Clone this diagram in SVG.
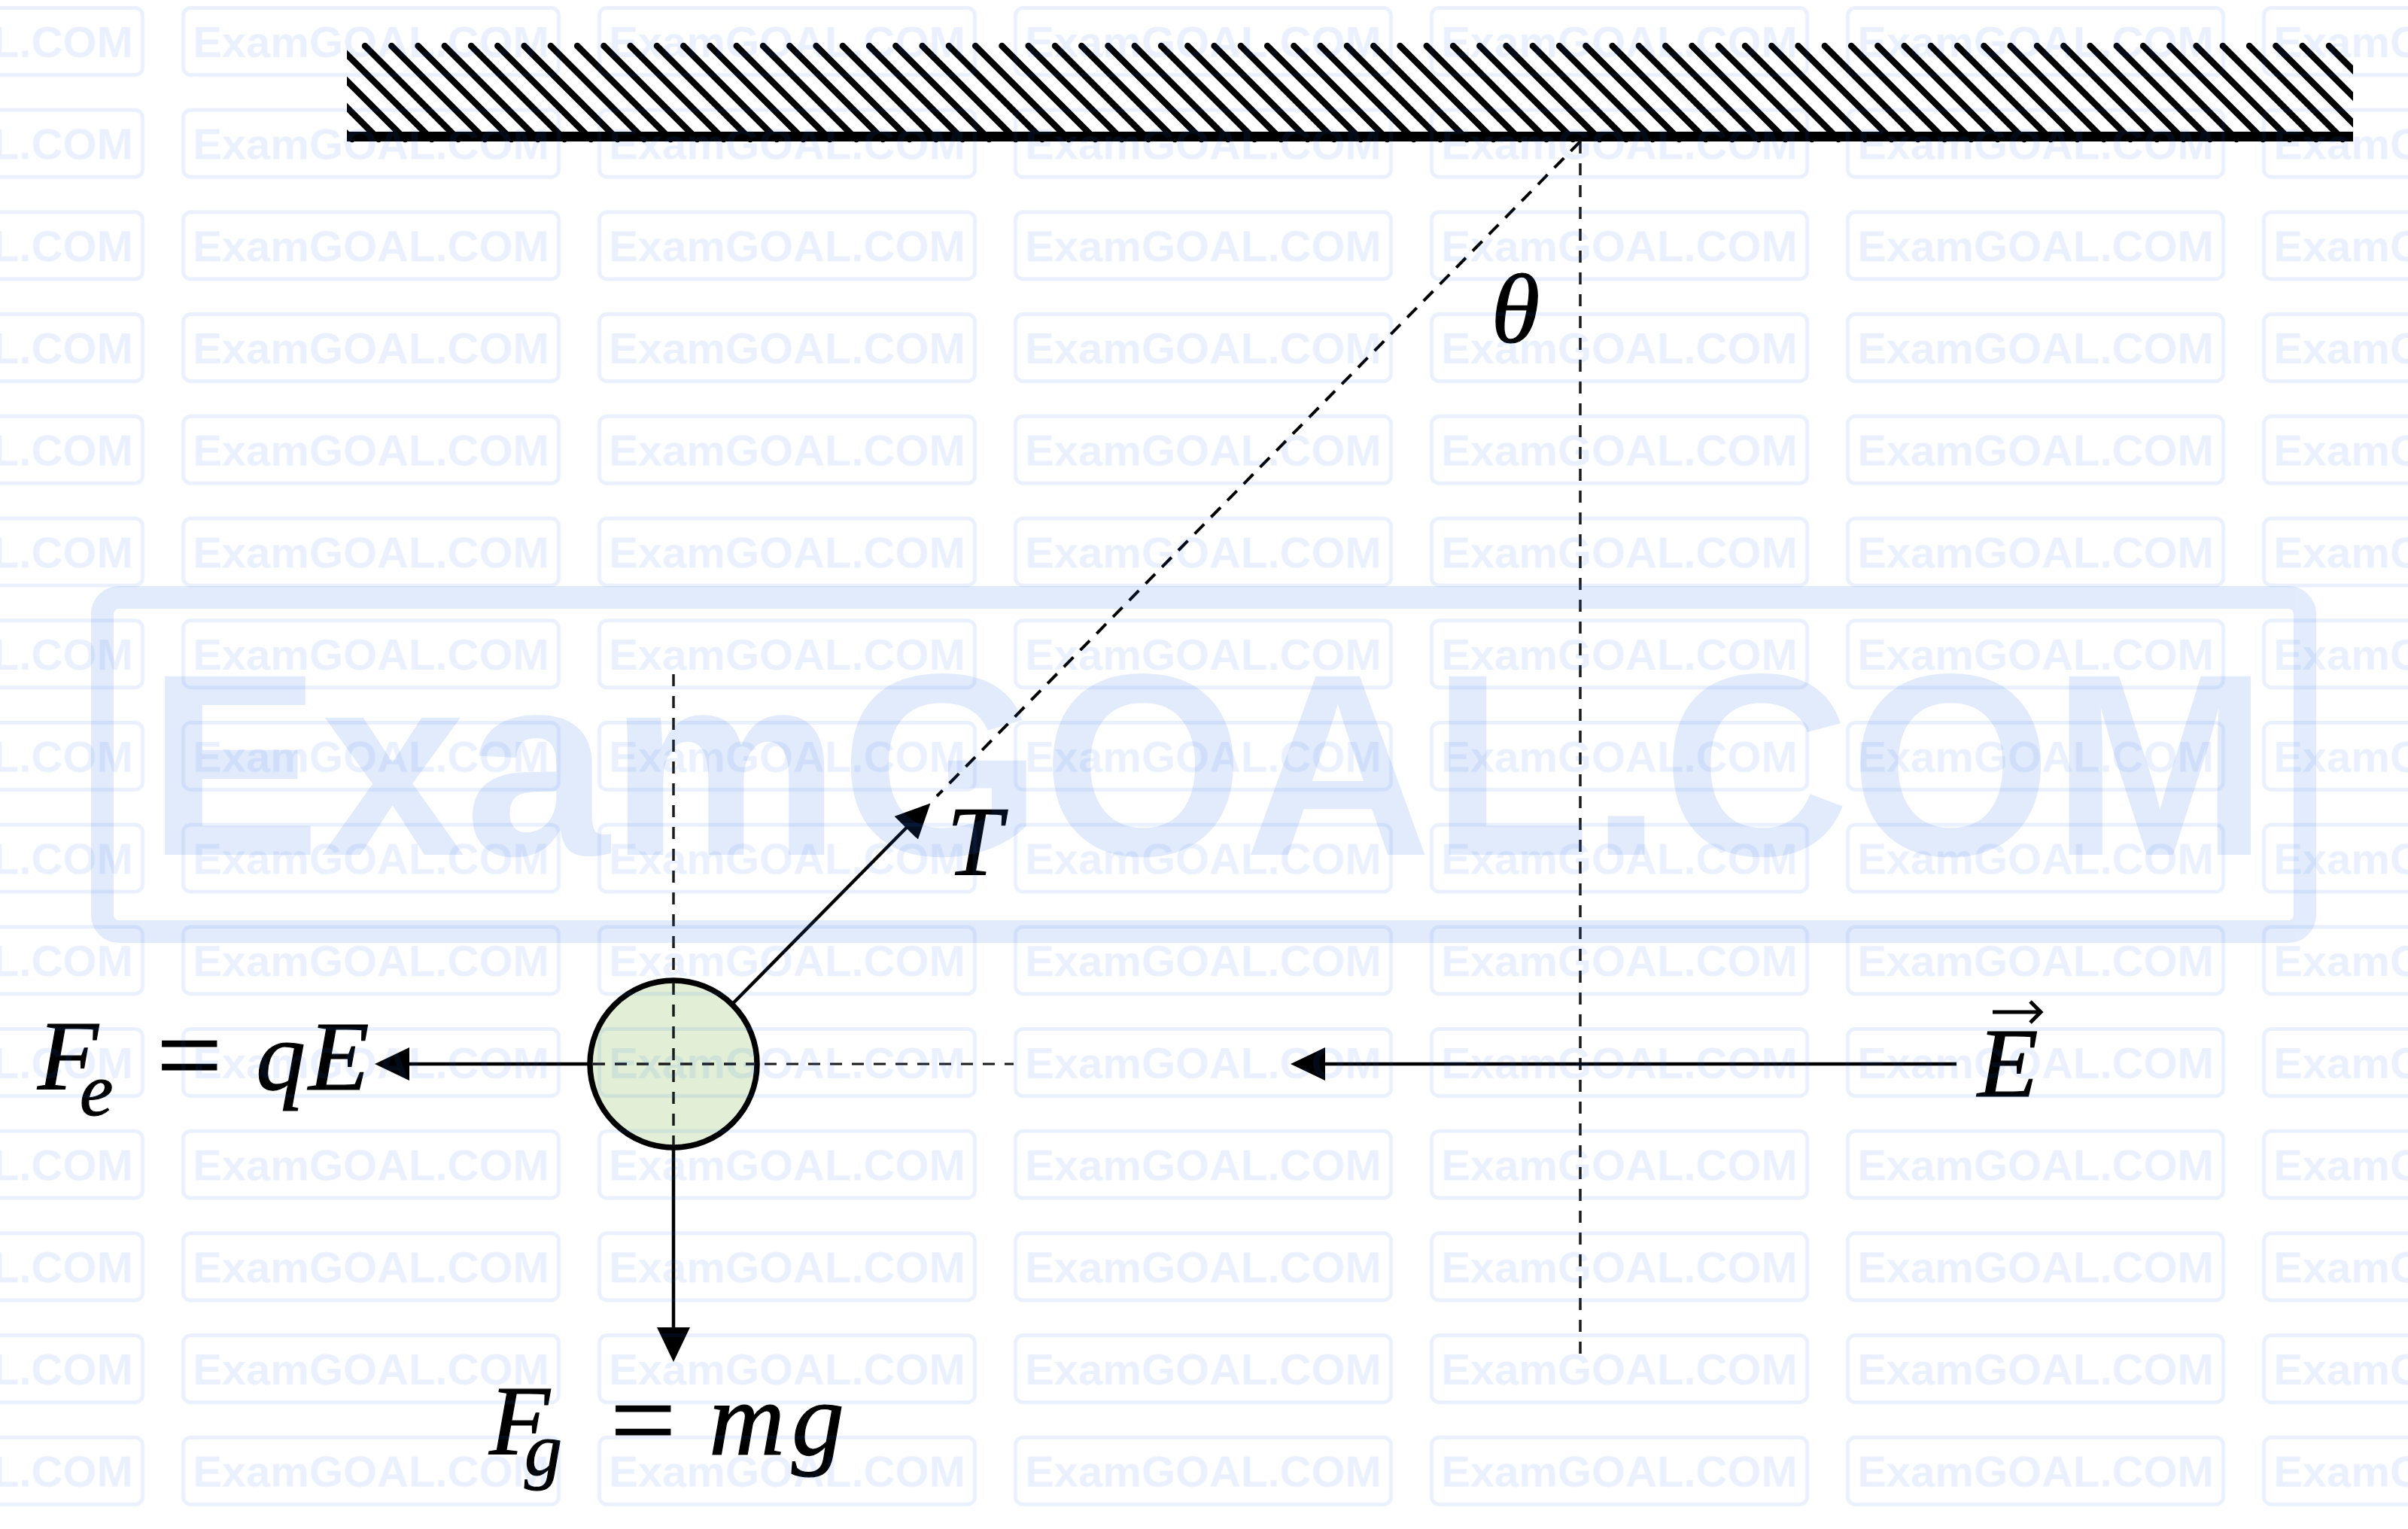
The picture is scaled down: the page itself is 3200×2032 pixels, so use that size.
<svg xmlns="http://www.w3.org/2000/svg" width="3200" height="2032" viewBox="0 0 3200 2032">
<style>
.m{font-family:"Liberation Serif","Times New Roman",serif;font-style:italic;font-size:132px;fill:#000;stroke:#000;stroke-width:1.2}
.sub{font-size:100px}
.up{font-style:normal;font-size:155px}
.big{font-size:140px}
.dash{fill:none;stroke:#1a1a1a;stroke-width:3.5;stroke-dasharray:16 13}
.str{fill:none;stroke:#000;stroke-width:4;stroke-dasharray:18 13}
.arr{fill:none;stroke:#000;stroke-width:4.5;marker-end:url(#ah)}
.wmt{font-family:"Liberation Sans",Arial,sans-serif;font-weight:bold}
</style>
<defs>
<marker id="ah" markerUnits="userSpaceOnUse" markerWidth="46" markerHeight="44" viewBox="0 0 46 44" refX="4" refY="22" orient="auto">
<path d="M0,0 L46,22 L0,44 Z" fill="#000"/>
</marker>
<clipPath id="hc"><rect x="461" y="0" width="2666" height="190"/></clipPath>
<pattern id="wm" patternUnits="userSpaceOnUse" x="238.5" y="8" width="553" height="135.7">
<rect x="5" y="2.5" width="499" height="89" rx="10" fill="none" stroke="#286eeb" stroke-width="5"/>
<text class="wmt" x="254.5" y="68" font-size="58" text-anchor="middle" fill="#286eeb">ExamGOAL.COM</text>
</pattern>
</defs>
<rect width="3200" height="2032" fill="#fff"/>

<g id="ceiling">
<path clip-path="url(#hc)" fill="none" stroke="#000" stroke-width="8.5" stroke-linecap="round" d="M343.92,61
l124 124m-88.73-124l124 124m-88.73-124l124 124m-88.73-124l124 124m-88.73-124l124 124m-88.73-124l124 124m-88.73-124l124 124m-88.73-124l124 124m-88.73-124l124 124m-88.73-124l124 124m-88.73-124
l124 124m-88.73-124l124 124m-88.73-124l124 124m-88.73-124l124 124m-88.73-124l124 124m-88.73-124l124 124m-88.73-124l124 124m-88.73-124l124 124m-88.73-124l124 124m-88.73-124l124 124m-88.73-124
l124 124m-88.73-124l124 124m-88.73-124l124 124m-88.73-124l124 124m-88.73-124l124 124m-88.73-124l124 124m-88.73-124l124 124m-88.73-124l124 124m-88.73-124l124 124m-88.73-124l124 124m-88.73-124
l124 124m-88.73-124l124 124m-88.73-124l124 124m-88.73-124l124 124m-88.73-124l124 124m-88.73-124l124 124m-88.73-124l124 124m-88.73-124l124 124m-88.73-124l124 124m-88.73-124l124 124m-88.73-124
l124 124m-88.73-124l124 124m-88.73-124l124 124m-88.73-124l124 124m-88.73-124l124 124m-88.73-124l124 124m-88.73-124l124 124m-88.73-124l124 124m-88.73-124l124 124m-88.73-124l124 124m-88.73-124
l124 124m-88.73-124l124 124m-88.73-124l124 124m-88.73-124l124 124m-88.73-124l124 124m-88.73-124l124 124m-88.73-124l124 124m-88.73-124l124 124m-88.73-124l124 124m-88.73-124l124 124m-88.73-124
l124 124m-88.73-124l124 124m-88.73-124l124 124m-88.73-124l124 124m-88.73-124l124 124m-88.73-124l124 124m-88.73-124l124 124m-88.73-124l124 124m-88.73-124l124 124m-88.73-124l124 124m-88.73-124
l124 124m-88.73-124l124 124m-88.73-124l124 124m-88.73-124l124 124m-88.73-124l124 124m-88.73-124l124 124m-88.73-124l124 124m-88.73-124l124 124m-88.73-124l124 124"/>
<rect x="461" y="175" width="2666" height="13" fill="#000"/>
</g>

<g id="connectors">
<line class="dash" x1="2100" y1="188" x2="2100" y2="1806"/>
<line class="str" x1="2100" y1="188" x2="1245" y2="1058"/>
<line class="dash" x1="895" y1="896" x2="895" y2="1300"/>
<line class="dash" x1="784" y1="1414" x2="1347" y2="1414" style="stroke-width:3"/>
<line class="arr" x1="973.5" y1="1334" x2="1207" y2="1097.5"/>
<line class="arr" x1="783" y1="1414" x2="540" y2="1414"/>
<line class="arr" x1="2600" y1="1414" x2="1757" y2="1414"/>
<line class="arr" x1="895" y1="1526" x2="895" y2="1768"/>
</g>

<g id="ball">
<circle cx="895" cy="1414" r="111" fill="#e2efd6" stroke="#000" stroke-width="7.5"/>
<line class="dash" x1="895" y1="1306" x2="895" y2="1522"/>
<line class="dash" x1="788" y1="1414" x2="1002" y2="1414"/>
</g>

<g id="labels">
<text class="m" x="2014" y="455" text-anchor="middle" font-size="130">θ</text>
<text class="m" x="1258" y="1163">T</text>
<text class="m" y="1448"><tspan x="50">F</tspan><tspan class="sub" x="106" y="1482">e</tspan><tspan class="up" x="208" y="1454">=</tspan><tspan x="340" y="1448">q</tspan><tspan x="410">E</tspan></text>
<text class="m" y="1933"><tspan x="650">F</tspan><tspan class="sub" x="697" y="1960">g</tspan><tspan class="up" x="811" y="1939">=</tspan><tspan class="big" x="942" y="1933">m</tspan><tspan class="big" x="1052">g</tspan></text>
<text class="m" x="2628" y="1457">E</text>
<path d="M2648,1345 H2711 M2698,1331 L2712,1345 L2698,1359" fill="none" stroke="#000" stroke-width="5"/>
</g>

<g id="watermark">
<rect width="3200" height="2032" fill="url(#wm)" opacity="0.1"/>
<g opacity="0.13" fill="#286eeb">
<rect x="136" y="794" width="2927" height="444" rx="22" fill="none" stroke="#286eeb" stroke-width="30"/>
<text class="wmt" x="1605" y="1136" font-size="345" text-anchor="middle">ExamGOAL.COM</text>
</g>
</g>
</svg>
